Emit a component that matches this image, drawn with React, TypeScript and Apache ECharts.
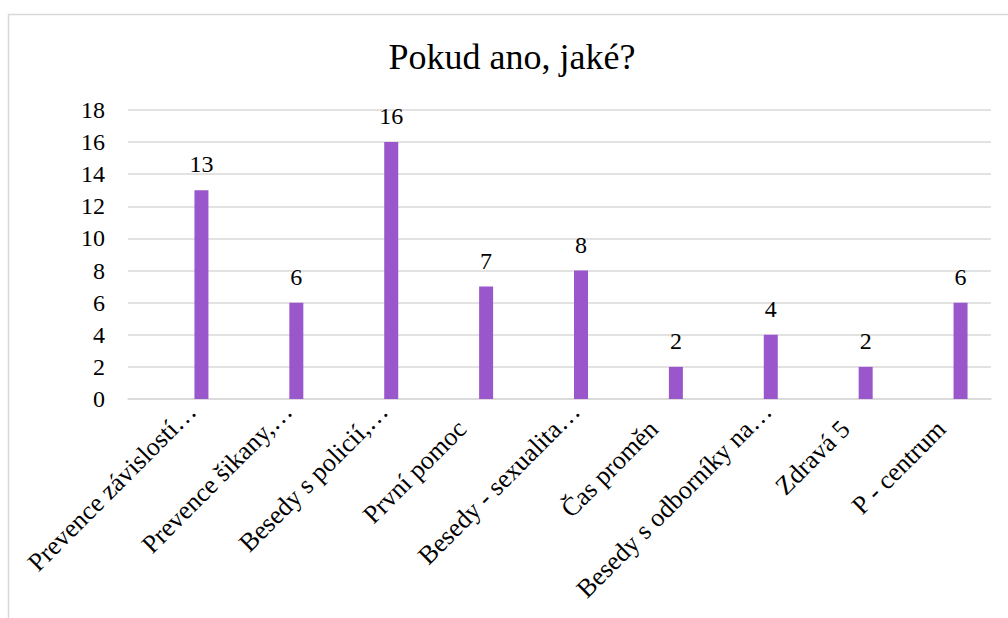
import React, { useEffect, useRef } from "react";
import * as echarts from "echarts";

const chartTitle = "Pokud ano, jaké?";
const categories = [
  "Prevence závislostí…",
  "Prevence šikany,…",
  "Besedy s policií,…",
  "První pomoc",
  "Besedy - sexualita…",
  "Čas proměn",
  "Besedy s odborníky na…",
  "Zdravá 5",
  "P - centrum",
];
const values = [13, 6, 16, 7, 8, 2, 4, 2, 6];
const yTicks = [0, 2, 4, 6, 8, 10, 12, 14, 16, 18];

const FONT = "Liberation Serif";

export default function App() {
  const ref = useRef<HTMLDivElement>(null);

  useEffect(() => {
    if (!ref.current) return;
    const chart = echarts.init(ref.current, null, { renderer: "svg" });

    const gridL = 128;
    const gridR = 17;
    const gridT = 110;
    const gridB = 219;
    const barShift = 26;
    const labelShift = 16;
    const yMin = yTicks[0];
    const yMax = yTicks[yTicks.length - 1];
    const yInterval = yTicks[1] - yTicks[0];

    const border = {
      type: "rect",
      shape: { x: 8.5, y: 14.5, width: 1100, height: 700 },
      style: { fill: "none", stroke: "#d9d9d9", lineWidth: 1.5 },
      silent: true,
      z: 0,
    };

    chart.setOption({
      animation: false,
      backgroundColor: "#ffffff",
      graphic: [border],
      grid: [
        { left: gridL, right: gridR, top: gridT, bottom: gridB },
        { left: gridL + barShift, right: gridR - barShift, top: gridT, bottom: gridB },
        { left: gridL + labelShift, right: gridR - labelShift, top: gridT, bottom: gridB },
      ],
      xAxis: [
        {
          type: "category",
          gridIndex: 0,
          data: categories,
          axisLine: { show: true, lineStyle: { color: "#d9d9d9", width: 1.5 } },
          axisTick: { show: false },
          axisLabel: { show: false },
          splitLine: { show: false },
        },
        { type: "category", gridIndex: 1, data: categories, show: false },
        { type: "category", gridIndex: 2, data: categories, show: false },
      ],
      yAxis: [
        {
          type: "value",
          gridIndex: 0,
          min: yMin,
          max: yMax,
          interval: yInterval,
          axisLine: { show: false },
          axisTick: { show: false },
          axisLabel: { show: false },
          splitLine: { show: true, lineStyle: { color: "#d9d9d9", width: 1.5 } },
        },
        { type: "value", gridIndex: 1, min: yMin, max: yMax, interval: yInterval, show: false },
        { type: "value", gridIndex: 2, min: yMin, max: yMax, interval: yInterval, show: false },
      ],
      series: [
        {
          type: "bar",
          xAxisIndex: 1,
          yAxisIndex: 1,
          data: values,
          barWidth: 14,
          itemStyle: { color: "#9a57cc" },
          label: { show: false },
        },
      ],
    });

    // Texts drawn as graphic text (placed through the chart's own scales)
    const mk = (
      text: string,
      x: number,
      y: number,
      size: number,
      align: string,
      vAlign: string,
      rotation = 0
    ) => ({
      type: "text",
      x,
      y,
      rotation,
      silent: true,
      z: 10,
      style: {
        text,
        fontFamily: FONT,
        fontSize: size,
        fill: "#000",
        align,
        verticalAlign: vAlign,
        textAlign: align,
        textVerticalAlign: vAlign,
      },
    });

    const texts: any[] = [];
    texts.push(mk(chartTitle, 512, 39, 36, "center", "top"));

    const axisX = gridL - 23;
    yTicks.forEach((t) => {
      const py = chart.convertToPixel({ yAxisIndex: 0 }, t) as number;
      texts.push(mk(String(t), axisX, py, 24, "right", "middle"));
    });

    const y0 = chart.convertToPixel({ yAxisIndex: 0 }, yMin) as number;
    const back = 25 * Math.SQRT1_2;
    categories.forEach((c, i) => {
      let px = chart.convertToPixel({ xAxisIndex: 2 }, i) as number;
      let py = y0 + 8;
      if (!c.endsWith("…")) {
        px -= back;
        py += back;
      }
      texts.push(mk(c, px, py, 26, "right", "middle", Math.PI / 4));
    });

    values.forEach((v, i) => {
      const p = chart.convertToPixel({ xAxisIndex: 1, yAxisIndex: 1 }, [i, v]) as number[];
      texts.push(mk(String(v), p[0], p[1] - 14, 24, "center", "bottom"));
    });

    chart.setOption({ graphic: [border, ...texts] });

    return () => chart.dispose();
  }, []);

  return (
    <div
      ref={ref}
      style={{ position: "fixed", left: 0, top: 0, width: 1008, height: 618, background: "#fff" }}
    />
  );
}
